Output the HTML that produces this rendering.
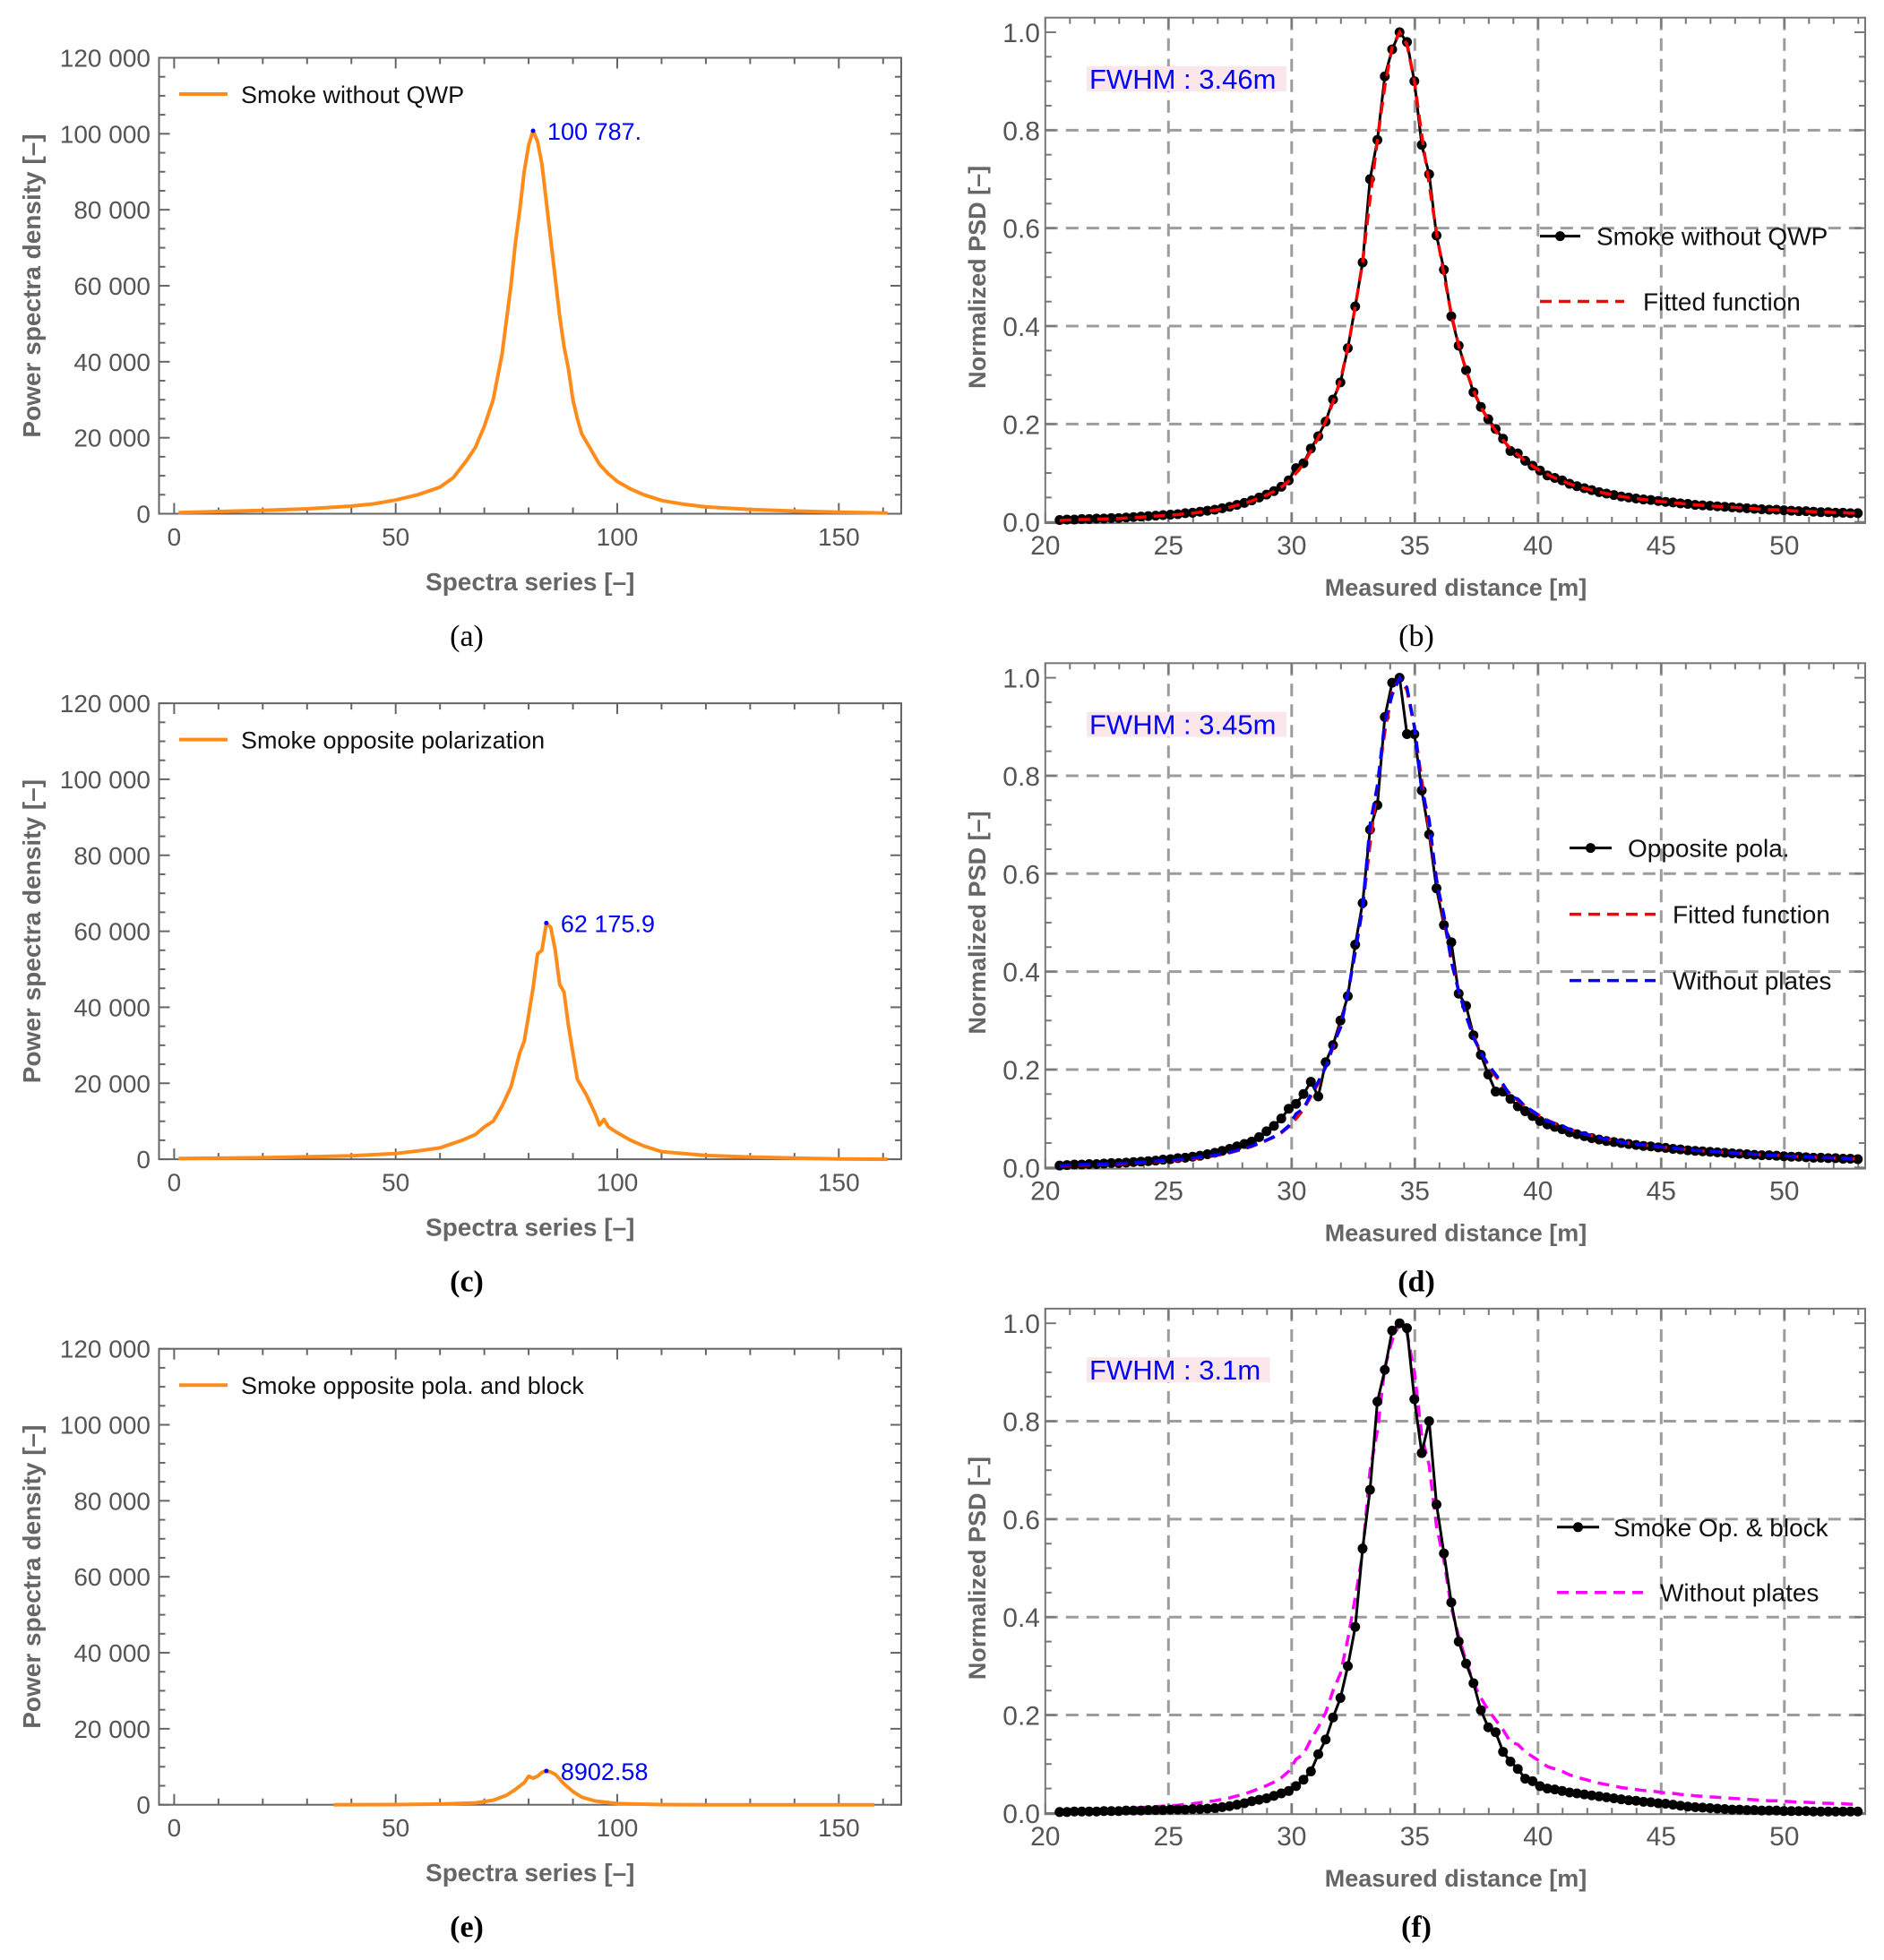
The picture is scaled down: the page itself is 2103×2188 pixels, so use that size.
<!DOCTYPE html>
<html><head><meta charset="utf-8"><style>
html,body{margin:0;padding:0;background:#fff;}
svg{display:block;}
text{font-family:"Liberation Sans",sans-serif;}
</style></head><body>
<svg id="fig" width="2103" height="2188" viewBox="0 0 2103 2188" xmlns="http://www.w3.org/2000/svg"></svg>
<script>
// ---------- data: left panels (spectra index vs PSD) ----------
const specA = [1,10,20,30,40,45,50,55,60,63,66,68,70,72,74,76,77,78,79,80,81,82,83,84,85,86,87,88,89,90,91,92,94,96,98,100,103,106,110,115,120,130,140,150,161];
const psdA = [300,600,900,1300,2000,2600,3600,5000,7000,9500,14000,17500,23000,30000,42000,60000,71000,80000,90000,97000,100787,98000,92000,82000,72000,62000,52000,44000,38000,30000,25000,21000,17000,13000,10500,8500,6500,5000,3500,2500,1800,1100,700,400,200];
const specC = [1,20,40,50,55,60,65,68,70,72,74,76,78,79,80,81,82,83,84,85,86,87,88,89,90,91,93,95,96,97,98,100,103,106,110,120,130,140,150,161];
const psdC = [200,400,900,1500,2200,3000,5000,6500,8500,10000,14000,19000,28000,31000,38000,45000,54000,55000,62175.9,61000,55000,46000,44000,35000,28000,21000,17000,12000,9000,10500,8500,7000,5000,3500,2000,1000,600,300,100,0];
const specE = [36,50,60,68,72,75,77,79,80,81,82,83,84,85,86,87,88,90,92,95,100,110,120,158];
const psdE = [0,50,200,500,1200,2500,4000,5800,7500,7000,7500,8500,8902.58,8600,8000,6800,5500,3500,2000,1000,300,50,0,0];
const peakLabels = ["100 787.","62 175.9","8902.58"];
const leftYTicks = [0,20000,40000,60000,80000,100000,120000];
const leftYTickLabels = ["0","20 000","40 000","60 000","80 000","100 000","120 000"];
const leftXTicks = [0,50,100,150];

// ---------- data: right panels (distance vs normalized PSD) ----------
const dist = [20.58,20.88,21.18,21.48,21.78,22.08,22.38,22.68,22.98,23.28,23.58,23.88,24.18,24.48,24.78,25.08,25.38,25.68,25.98,26.28,26.58,26.88,27.18,27.48,27.78,28.08,28.38,28.68,28.98,29.28,29.58,29.88,30.18,30.48,30.78,31.08,31.38,31.68,31.98,32.28,32.58,32.88,33.18,33.48,33.78,34.08,34.38,34.68,34.98,35.28,35.58,35.88,36.18,36.48,36.78,37.08,37.38,37.68,37.98,38.28,38.58,38.88,39.18,39.48,39.78,40.08,40.38,40.68,40.98,41.28,41.58,41.88,42.18,42.48,42.78,43.08,43.38,43.68,43.98,44.28,44.58,44.88,45.18,45.48,45.78,46.08,46.38,46.68,46.98,47.28,47.58,47.88,48.18,48.48,48.78,49.08,49.38,49.68,49.98,50.28,50.58,50.88,51.18,51.48,51.78,52.08,52.38,52.68,52.98];
const psdB = [0.004,0.005,0.005,0.006,0.006,0.007,0.007,0.008,0.008,0.009,0.010,0.011,0.012,0.013,0.014,0.015,0.016,0.018,0.019,0.021,0.023,0.025,0.028,0.031,0.035,0.039,0.044,0.050,0.056,0.063,0.072,0.085,0.11,0.12,0.15,0.175,0.205,0.25,0.285,0.355,0.44,0.53,0.70,0.78,0.91,0.965,1.0,0.98,0.9,0.77,0.71,0.585,0.515,0.42,0.36,0.31,0.265,0.235,0.21,0.19,0.17,0.145,0.14,0.125,0.115,0.105,0.095,0.09,0.085,0.078,0.073,0.069,0.065,0.061,0.058,0.055,0.052,0.050,0.048,0.046,0.045,0.043,0.041,0.040,0.038,0.037,0.035,0.034,0.033,0.032,0.031,0.030,0.029,0.028,0.027,0.026,0.025,0.025,0.024,0.023,0.022,0.022,0.021,0.020,0.020,0.019,0.019,0.018,0.018];
const fitB = [0.003,0.004,0.004,0.005,0.005,0.006,0.006,0.007,0.007,0.008,0.009,0.010,0.011,0.012,0.013,0.014,0.015,0.017,0.018,0.020,0.022,0.024,0.027,0.030,0.034,0.038,0.043,0.049,0.055,0.062,0.071,0.083,0.10,0.118,0.145,0.172,0.205,0.245,0.29,0.355,0.44,0.53,0.66,0.78,0.89,0.97,1.0,0.975,0.9,0.79,0.69,0.59,0.505,0.425,0.36,0.31,0.268,0.235,0.208,0.186,0.167,0.15,0.137,0.125,0.114,0.105,0.097,0.09,0.084,0.078,0.073,0.069,0.065,0.061,0.058,0.055,0.052,0.050,0.048,0.046,0.044,0.042,0.041,0.039,0.038,0.036,0.035,0.034,0.033,0.032,0.031,0.030,0.029,0.028,0.027,0.026,0.025,0.025,0.024,0.023,0.022,0.022,0.021,0.020,0.020,0.019,0.019,0.018,0.018];
const psdD = [0.004,0.005,0.006,0.006,0.007,0.007,0.008,0.009,0.009,0.010,0.011,0.012,0.013,0.014,0.016,0.017,0.019,0.020,0.022,0.024,0.027,0.030,0.034,0.038,0.043,0.048,0.053,0.062,0.074,0.085,0.10,0.12,0.13,0.15,0.175,0.145,0.215,0.25,0.30,0.35,0.455,0.54,0.69,0.74,0.92,0.99,1.0,0.885,0.885,0.77,0.68,0.57,0.495,0.46,0.355,0.33,0.27,0.23,0.19,0.155,0.155,0.14,0.125,0.115,0.105,0.095,0.088,0.083,0.078,0.072,0.068,0.064,0.060,0.057,0.054,0.052,0.050,0.048,0.046,0.044,0.043,0.041,0.040,0.038,0.037,0.035,0.034,0.033,0.032,0.031,0.030,0.029,0.028,0.027,0.026,0.025,0.025,0.024,0.023,0.022,0.022,0.021,0.020,0.020,0.019,0.019,0.018,0.018,0.017];
const psdF = [0.002,0.002,0.003,0.003,0.003,0.003,0.004,0.004,0.004,0.005,0.005,0.005,0.006,0.006,0.006,0.007,0.007,0.007,0.008,0.008,0.009,0.010,0.012,0.014,0.017,0.020,0.024,0.027,0.030,0.035,0.040,0.045,0.055,0.068,0.085,0.12,0.15,0.195,0.235,0.30,0.38,0.54,0.66,0.84,0.905,0.985,1.0,0.99,0.845,0.735,0.80,0.63,0.53,0.43,0.35,0.305,0.265,0.21,0.175,0.165,0.125,0.105,0.09,0.07,0.065,0.055,0.05,0.048,0.045,0.042,0.040,0.038,0.036,0.034,0.032,0.030,0.028,0.026,0.025,0.023,0.022,0.020,0.019,0.017,0.015,0.013,0.012,0.011,0.010,0.009,0.008,0.007,0.007,0.006,0.006,0.005,0.005,0.005,0.004,0.004,0.004,0.004,0.003,0.003,0.003,0.003,0.003,0.003,0.003];
const fwhmLabels = ["FWHM : 3.46m","FWHM : 3.45m","FWHM : 3.1m"];
const rightYTicks = [0,0.2,0.4,0.6,0.8,1.0];
const rightYTickLabels = ["0.0","0.2","0.4","0.6","0.8","1.0"];
const rightXTicks = [20,25,30,35,40,45,50];

const NS = "http://www.w3.org/2000/svg";
const svg = document.getElementById("fig");
function mk(tag, attrs, parent, txt){
  const e = document.createElementNS(NS, tag);
  for (const k in attrs) e.setAttribute(k, attrs[k]);
  if (txt !== undefined) e.textContent = txt;
  (parent || svg).appendChild(e);
  return e;
}
const ROW = [0, 720.6, 1441.2];

// ---------- left panels ----------
function leftPanel(r, xs, ys, legendText, peakText, key){
  const oy = ROW[r];
  const L=177.5, R=1006, T=64.5+oy, B=573.5+oy;
  const sx = v => 194.4 + (v-0)*(936.3-194.4)/150;
  const sy = v => B - v*(B-T)/120000;
  const g = mk("g", {});
  
  
  const fr = mk("rect", {x:L,y:T,width:R-L,height:B-T,fill:"none",stroke:"#666","stroke-width":2}, g);
  
  
  for (let v=0; v<=160; v+=10){
    const big = v%50===0, len = big?12:7;
    mk("line",{x1:sx(v),x2:sx(v),y1:B,y2:B-len,stroke:"#666","stroke-width":2},g);
    mk("line",{x1:sx(v),x2:sx(v),y1:T,y2:T+len,stroke:"#666","stroke-width":2},g);
  }
  for (let v=0; v<=120000; v+=5000){
    const big = v%20000===0, len = big?12:7;
    mk("line",{x1:L,x2:L+len,y1:sy(v),y2:sy(v),stroke:"#666","stroke-width":2},g);
    mk("line",{x1:R,x2:R-len,y1:sy(v),y2:sy(v),stroke:"#666","stroke-width":2},g);
  }
  leftYTicks.forEach((v,i)=>{
    const t = mk("text",{x:168,y:sy(v)+10,"text-anchor":"end","font-size":28,fill:"#555"},g,leftYTickLabels[i]);
    
    
  });
  leftXTicks.forEach(v=>{
    const t = mk("text",{x:sx(v),y:609+oy,"text-anchor":"middle","font-size":28,fill:"#555"},g,String(v));
    
    
  });
  const yt = mk("text",{x:0,y:0,transform:`translate(45,${(T+B)/2}) rotate(-90)`,"text-anchor":"middle","font-size":28,"font-weight":"bold",fill:"#666"},g,"Power spectra density [–]");
  
  
  const xt = mk("text",{x:(L+R)/2,y:659+oy,"text-anchor":"middle","font-size":28,"font-weight":"bold",fill:"#666"},g,"Spectra series [–]");
  
  
  let d = xs.map((x,i)=>(i?"L":"M")+sx(x).toFixed(1)+","+sy(ys[i]).toFixed(1)).join(" ");
  const ln = mk("path",{d:d,fill:"none",stroke:"#ff8c1a","stroke-width":4,"stroke-linejoin":"round"},g);
  
  
  let mi = 0; ys.forEach((v,i)=>{ if (v>ys[mi]) mi=i; });
  const pd = mk("circle",{cx:sx(xs[mi]),cy:sy(ys[mi]),r:2.5,fill:"#0000ff"},g);
  
  
  const pt = mk("text",{x:sx(xs[mi])+16,y:sy(ys[mi])+10,"font-size":27,fill:"#0000ff"},g,peakText);
  
  
  const lg = mk("g",{},g);
  
  
  mk("line",{x1:200,x2:254,y1:105+oy,y2:105+oy,stroke:"#ff8c1a","stroke-width":4},lg);
  mk("text",{x:269,y:115+oy,"font-size":27,fill:"#111"},lg,legendText);
  const cap = mk("text",{x:521,y:721+oy,"text-anchor":"middle",style:"font-family:'Liberation Serif',serif;font-size:34px;font-weight:"+(r?"bold":"normal"),fill:"#000"},g,"(" + key + ")");
  
  
}
leftPanel(0, specA, psdA, "Smoke without QWP", peakLabels[0], "a");
leftPanel(1, specC, psdC, "Smoke opposite polarization", peakLabels[1], "c");
leftPanel(2, specE, psdE, "Smoke opposite pola. and block", peakLabels[2], "e");

// ---------- right panels ----------
function rightPanel(r, key, fwhm, series, legend){
  const oy = ROW[r];
  const L=1166.8, R=2082, T=19.7+oy, B=584+oy;
  const sx = v => L + (v-20)*27.5;
  const y0 = 582.7+oy, y1 = 36+oy;
  const sy = v => y0 - v*(y0-y1);
  const g = mk("g",{});
  
  
  const grid = mk("g",{stroke:"#9c9c9c","stroke-width":3,"stroke-dasharray":"14 9"},g);
  
  
  [25,30,35,40,45,50].forEach(v=>mk("line",{x1:sx(v),x2:sx(v),y1:T,y2:B},grid));
  [0.2,0.4,0.6,0.8].forEach(v=>mk("line",{x1:L,x2:R,y1:sy(v),y2:sy(v)},grid));
  const fr = mk("rect",{x:L,y:T,width:R-L,height:B-T,fill:"none",stroke:"#777","stroke-width":2},g);
  
  
  for (let v=20; v<=53; v+=1){
    const big=v%5===0, len=big?12:7;
    mk("line",{x1:sx(v),x2:sx(v),y1:B,y2:B-len,stroke:"#777","stroke-width":2},g);
    mk("line",{x1:sx(v),x2:sx(v),y1:T,y2:T+len,stroke:"#777","stroke-width":2},g);
  }
  for (let k=0; k<=20; k++){
    const v=k*0.05, big=k%4===0, len=big?12:7;
    mk("line",{x1:L,x2:L+len,y1:sy(v),y2:sy(v),stroke:"#777","stroke-width":2},g);
    mk("line",{x1:R,x2:R-len,y1:sy(v),y2:sy(v),stroke:"#777","stroke-width":2},g);
  }
  rightYTicks.forEach((v,i)=>{
    const t = mk("text",{x:1161,y:sy(v)+11,"text-anchor":"end","font-size":30,fill:"#555"},g,rightYTickLabels[i]);
    
    
  });
  rightXTicks.forEach(v=>{
    const t = mk("text",{x:sx(v),y:619+oy,"text-anchor":"middle","font-size":30,fill:"#555"},g,String(v));
    
    
  });
  const yt = mk("text",{x:0,y:0,transform:`translate(1100,${(y0+y1)/2}) rotate(-90)`,"text-anchor":"middle","font-size":27,"font-weight":"bold",fill:"#666"},g,"Normalized PSD [–]");
  
  
  const xt = mk("text",{x:1625,y:665+oy,"text-anchor":"middle","font-size":27,"font-weight":"bold",fill:"#666"},g,"Measured distance [m]");
  
  
  const fb = mk("rect",{x:1213,y:74+oy,width:fwhm.length*18.6,height:28,fill:"#fbe7ea"},g);
  
  
  const ft = mk("text",{x:1216,y:99+oy,"font-size":31,fill:"#0000ff"},g,fwhm);
  
  
  series.forEach(s=>{
    const d = dist.map((x,i)=>(i?"L":"M")+sx(x).toFixed(1)+","+sy(s.y[i]).toFixed(1)).join(" ");
    const p = mk("path",{d:d,fill:"none",stroke:s.color,"stroke-width":s.dots?3:3.5,"stroke-dasharray":s.dots?"none":"13 8"},g);
    
    
    if (s.dots){
      const dg = mk("g",{fill:"#000"},g);
      
      
      dist.forEach((x,i)=>mk("circle",{cx:sx(x),cy:sy(s.y[i]),r:5.5},dg));
    }
  });
  legend.forEach(le=>{
    const lg = mk("g",{},g);
    
    
    const ly = le.y + oy;
    if (le.dots){
      mk("line",{x1:le.x1,x2:le.x2,y1:ly,y2:ly,stroke:"#000","stroke-width":3},lg);
      mk("circle",{cx:(le.x1+le.x2)/2,cy:ly,r:5.5,fill:"#000"},lg);
    } else {
      mk("line",{x1:le.x1,x2:le.x2,y1:ly,y2:ly,stroke:le.color,"stroke-width":3.5,"stroke-dasharray":"13 8"},lg);
    }
    mk("text",{x:le.tx,y:ly+10,"font-size":28,fill:"#111"},lg,le.text);
  });
  const cap = mk("text",{x:1581,y:721+oy,"text-anchor":"middle",style:"font-family:'Liberation Serif',serif;font-size:34px;font-weight:"+(r?"bold":"normal"),fill:"#000"},g,"(" + key + ")");
  
  
}
rightPanel(0,"b",fwhmLabels[0],[
  {y:psdB,color:"#000",dots:true,name:"smoke-without-qwp-series"},
  {y:fitB,color:"#ff0000",dots:false,name:"fitted-function-line"}
],[
  {dots:true,x1:1719,x2:1764,y:263.6,tx:1782,text:"Smoke without QWP"},
  {dots:false,color:"#ff0000",x1:1719,x2:1813,y:336.5,tx:1834,text:"Fitted function"}
]);
rightPanel(1,"d",fwhmLabels[1],[
  {y:psdD,color:"#000",dots:true,name:"opposite-pola-series"},
  {y:fitB,color:"#ff0000",dots:false,name:"fitted-function-line"},
  {y:psdB,color:"#0000ff",dots:false,name:"without-plates-line"}
],[
  {dots:true,x1:1752,x2:1799,y:226,tx:1817,text:"Opposite pola."},
  {dots:false,color:"#ff0000",x1:1752,x2:1848,y:300,tx:1867,text:"Fitted function"},
  {dots:false,color:"#0000ff",x1:1752,x2:1848,y:374,tx:1867,text:"Without plates"}
]);
rightPanel(2,"f",fwhmLabels[2],[
  {y:psdB,color:"#ff00ff",dots:false,name:"without-plates-line"},
  {y:psdF,color:"#000",dots:true,name:"smoke-op-block-series"}
],[
  {dots:true,x1:1738,x2:1785,y:263.6,tx:1801,text:"Smoke Op. & block"},
  {dots:false,color:"#ff00ff",x1:1738,x2:1834,y:336.5,tx:1853,text:"Without plates"}
]);
</script>
</body></html>
